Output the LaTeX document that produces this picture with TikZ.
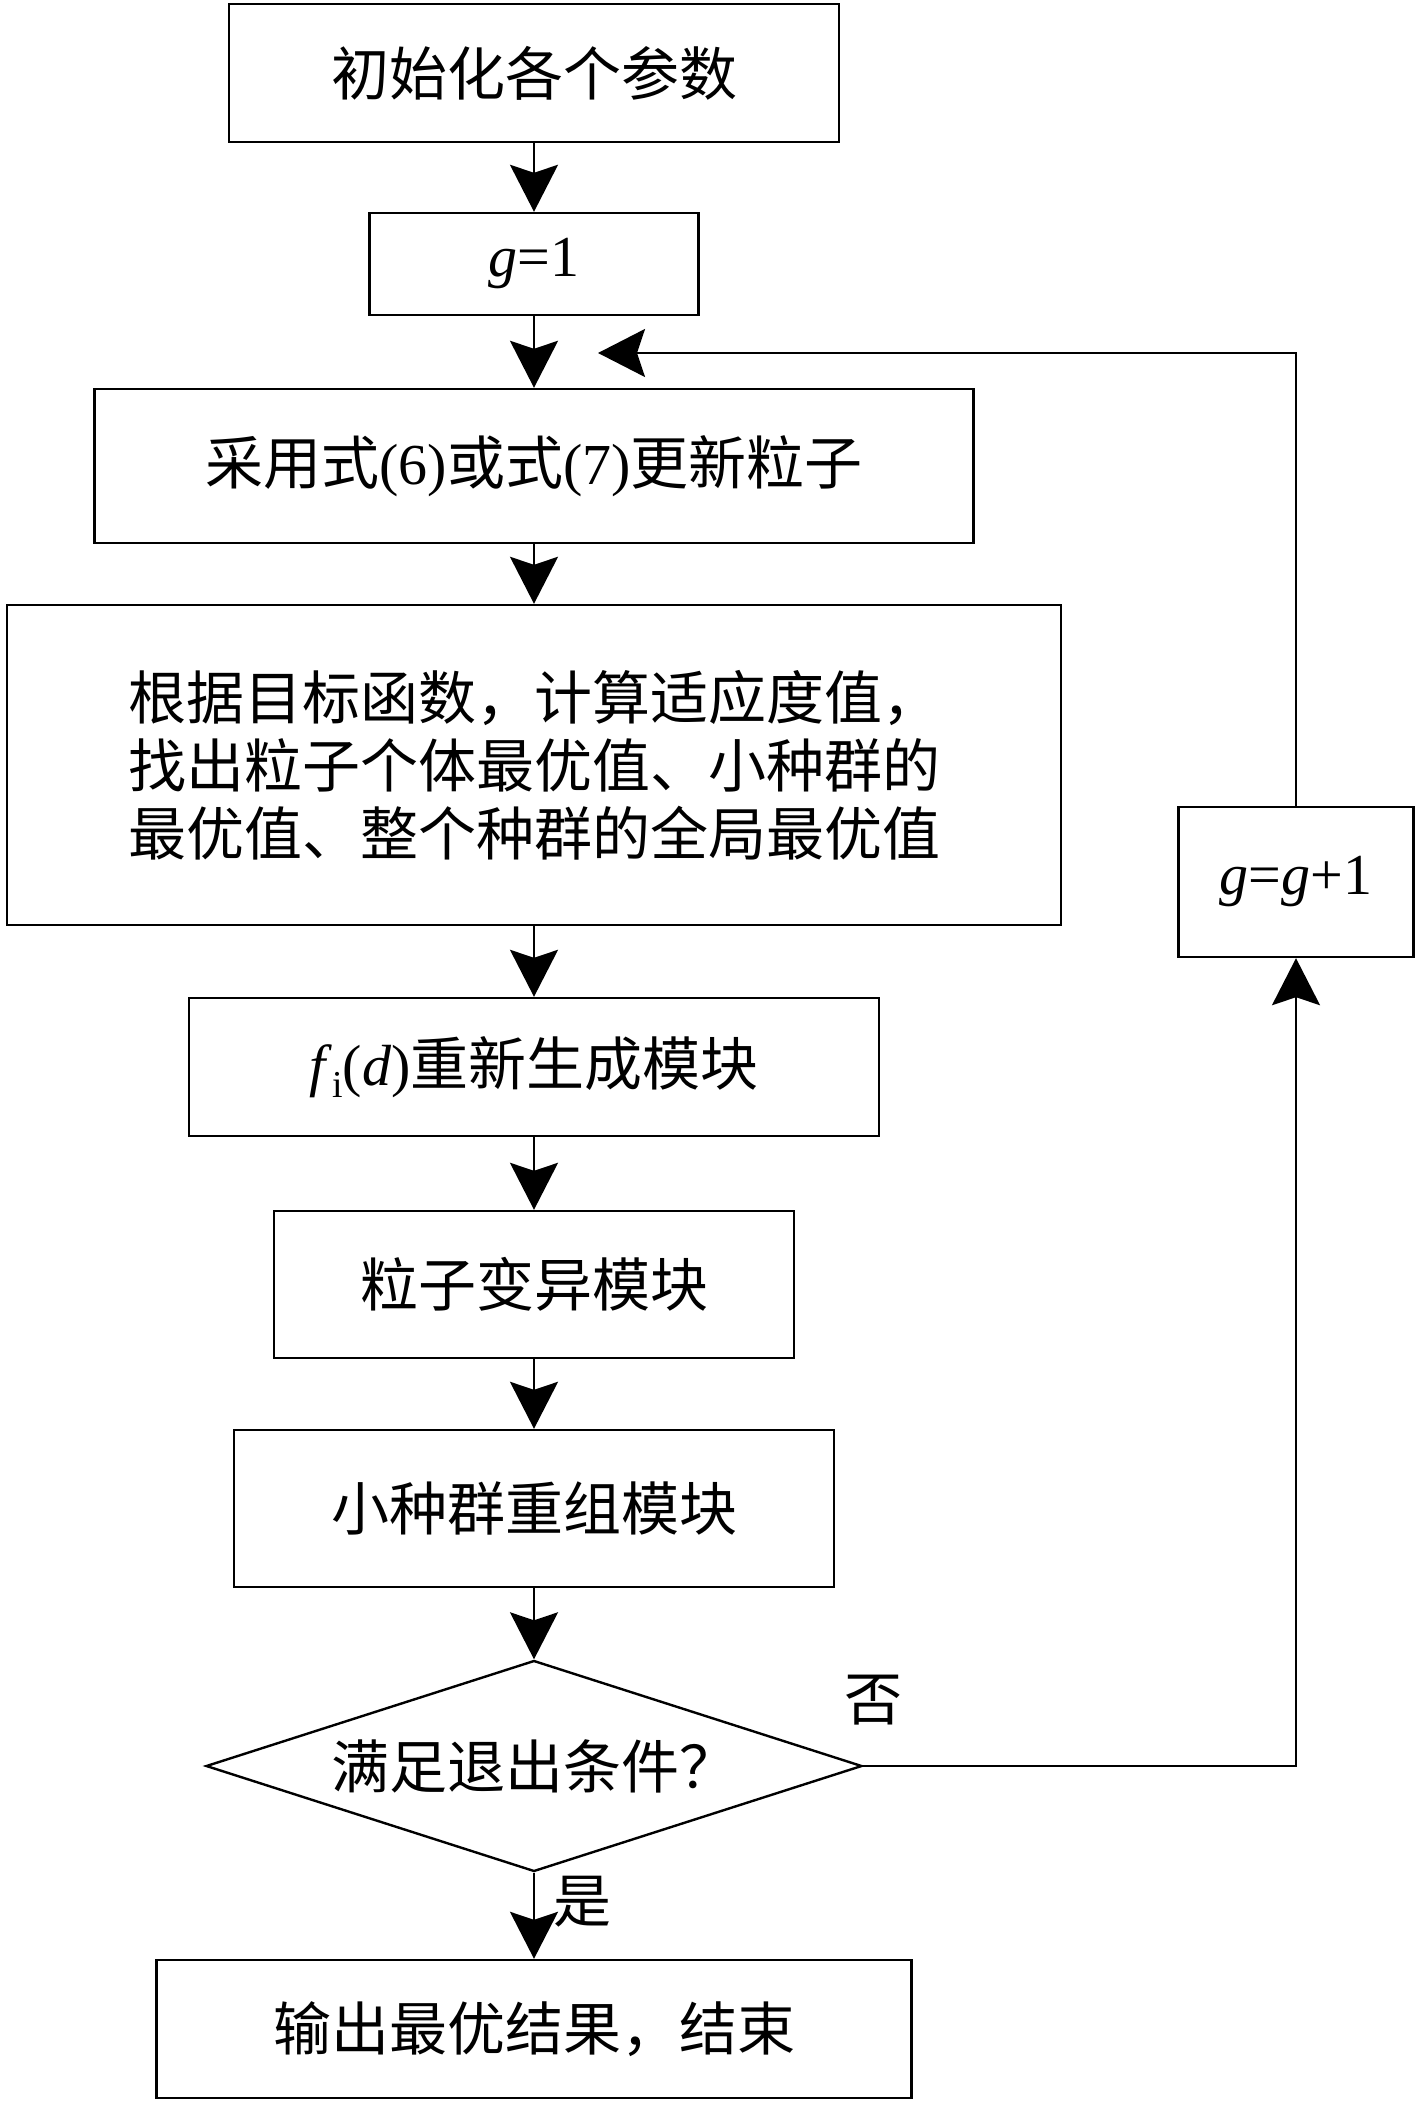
\documentclass[tikz,border=0pt]{standalone}
\usepackage{fontspec}
\setmainfont{Liberation Serif}
\newfontfamily\cjk{Noto Sans CJK SC}
\usetikzlibrary{arrows.meta,shapes.geometric}
\begin{document}
\begin{tikzpicture}[x=0.5pt,y=-0.5pt,
  box/.style={draw,line width=1.2pt,inner sep=0pt,align=center,font=\fontsize{29}{34}\selectfont},
  arr/.style={-{Stealth[length=23.5pt,width=24pt,inset=4pt]},line width=1pt},
  lbl/.style={font=\fontsize{29}{34}\selectfont\cjk,inner sep=0pt}]
\useasboundingbox (0,0) rectangle (1417,2102);
\node[box,minimum width=305pt,minimum height=69pt] (b1) at (534,73) {\cjk 初始化各个参数};
\node[box,minimum width=164.5pt,minimum height=51pt] (b2) at (534,264) {\textit{g}=1};
\node[box,minimum width=439.5pt,minimum height=77pt] (b3) at (534,466) {{\cjk 采用式}(6){\cjk 或式}(7){\cjk 更新粒子}};
\node[box,minimum width=527pt,minimum height=160pt,align=left] (b4) at (534,765) {\cjk 根据目标函数，计算适应度值，\\\cjk 找出粒子个体最优值、小种群的\\\cjk 最优值、整个种群的全局最优值};
\node[box,minimum width=345pt,minimum height=69pt] (b5) at (534,1067) {\textit{f}\raisebox{-0.22em}{\fontsize{19}{19}\selectfont i}(\textit{d}){\cjk 重新生成模块}};
\node[box,minimum width=260pt,minimum height=73.5pt] (b6) at (534,1284.5) {\cjk 粒子变异模块};
\node[box,minimum width=300pt,minimum height=78.5pt] (b7) at (534,1508.5) {\cjk 小种群重组模块};
\node[box,shape=diamond,aspect=3.1,minimum width=328pt,minimum height=105.5pt] (dia) at (534,1766) {\cjk 满足退出条件？};
\node[box,minimum width=377.5pt,minimum height=69pt] (b8) at (534,2029) {\cjk 输出最优结果，结束};
\node[box,minimum width=117.5pt,minimum height=75pt] (gg) at (1296,882) {\textit{g}=\textit{g}+1};
\coordinate (fb) at (598,353);
\draw[arr] (b1) -- (b2);
\draw[arr] (b2) -- (b3);
\draw[arr] (b3) -- (b4);
\draw[arr] (b4) -- (b5);
\draw[arr] (b5) -- (b6);
\draw[arr] (b6) -- (b7);
\draw[arr] (b7) -- (dia);
\draw[arr] (dia) -- (b8);
\draw[arr] (dia.east) -| (gg.south);
\draw[arr] (gg.north) |- (fb);
\node[lbl] (no) at (873,1700) {否};
\node[lbl] (yes) at (582,1902) {是};
\end{tikzpicture}
\end{document}
